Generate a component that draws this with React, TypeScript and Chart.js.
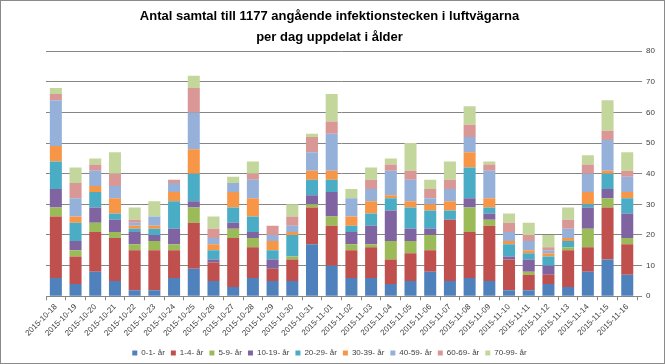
import React, { useEffect, useRef } from "react";
import { Chart, registerables } from "chart.js";

Chart.register(...registerables);

const dates = [
  "2015-10-18", "2015-10-19", "2015-10-20", "2015-10-21", "2015-10-22", "2015-10-23",
  "2015-10-24", "2015-10-25", "2015-10-26", "2015-10-27", "2015-10-28", "2015-10-29",
  "2015-10-30", "2015-10-31", "2015-11-01", "2015-11-02", "2015-11-03", "2015-11-04",
  "2015-11-05", "2015-11-06", "2015-11-07", "2015-11-08", "2015-11-09", "2015-11-10",
  "2015-11-11", "2015-11-12", "2015-11-13", "2015-11-14", "2015-11-15", "2015-11-16",
];

const age0_1 = [6, 4, 8, 5, 2, 2, 6, 9, 5, 3, 6, 5, 5, 17, 10, 6, 6, 4, 5, 8, 5, 6, 5, 2, 2, 4, 3, 8, 12, 7];
const age1_4 = [20, 9, 13, 14, 13, 13, 9, 15, 6, 16, 10, 4, 7, 12, 13, 9, 10, 8, 9, 7, 20, 15, 18, 10, 5, 3, 12, 8, 17, 10];
const age5_9 = [3, 2, 3, 2, 2, 3, 2, 5, 0, 3, 3, 0, 1, 1, 3, 2, 1, 6, 4, 5, 0, 8, 2, 0, 1, 0, 1, 6, 3, 2];
const age10_19 = [6, 3, 5, 4, 4, 2, 5, 2, 1, 2, 2, 3, 0, 3, 8, 4, 6, 10, 4, 2, 0, 3, 2, 1, 4, 3, 0, 7, 3, 8];
const age20_29 = [9, 6, 5, 2, 1, 2, 9, 9, 3, 5, 5, 3, 7, 5, 4, 2, 4, 4, 7, 6, 3, 10, 2, 4, 2, 3, 2, 1, 5, 5];
const age30_39 = [5, 2, 2, 5, 1, 1, 3, 8, 2, 5, 6, 3, 1, 3, 3, 3, 4, 1, 2, 2, 3, 5, 3, 1, 1, 1, 1, 4, 1, 2];
const age40_59 = [15, 6, 5, 4, 1, 3, 3, 12, 2, 3, 6, 2, 2, 6, 12, 6, 4, 8, 7, 2, 4, 5, 9, 3, 3, 1, 3, 6, 10, 5];
const age60_69 = [2, 5, 2, 4, 1, 0, 1, 8, 3, 0, 2, 3, 3, 5, 4, 0, 3, 2, 3, 3, 3, 4, 2, 3, 2, 1, 3, 3, 3, 2];
const age70_99 = [2, 5, 2, 7, 4, 5, 0, 4, 4, 2, 4, 0, 4, 1, 9, 3, 4, 2, 9, 3, 6, 6, 1, 3, 4, 4, 4, 3, 10, 6];

const seriesNames = ["0-1- år", "1-4- år", "5-9- år", "10-19- år", "20-29- år", "30-39- år", "40-59- år", "60-69- år", "70-99- år"];
const seriesColors = ["#4F81BD", "#C0504D", "#9BBB59", "#8064A2", "#4BACC6", "#F79646", "#95B1DA", "#D99795", "#C3D69B"];

const yTicks = [0, 10, 20, 30, 40, 50, 60, 70, 80];

const titleLines = ["Antal samtal till 1177 angående infektionstecken i luftvägarna", "per dag uppdelat i ålder"];

const FONT = "'Liberation Sans', Arial, sans-serif";

const borderPlugin = {
  id: "outerBorder",
  afterLayout(chart: any) {
    if (chart.legend) {
      chart.legend.top += 3;
      chart.legend.bottom += 3;
    }
  },
  beforeDraw(chart: any) {
    const ctx = chart.ctx;
    ctx.save();
    ctx.fillStyle = "#ffffff";
    ctx.fillRect(0, 0, chart.width, chart.height);
    ctx.restore();
  },
  afterDraw(chart: any) {
    const ctx = chart.ctx;
    ctx.save();
    ctx.strokeStyle = "#8a8a8a";
    ctx.lineWidth = 1;
    ctx.strokeRect(0.5, 0.5, chart.width - 1, chart.height - 1);
    ctx.restore();
  },
};

export default function App() {
  const ref = useRef<HTMLCanvasElement | null>(null);
  useEffect(() => {
    if (!ref.current) return;
    const values = [age0_1, age1_4, age5_9, age10_19, age20_29, age30_39, age40_59, age60_69, age70_99];
    const chart = new Chart(ref.current, {
      type: "bar",
      data: {
        labels: dates,
        datasets: values.map((v, i) => ({
          label: seriesNames[i],
          data: v,
          backgroundColor: seriesColors[i],
          borderWidth: 0,
          categoryPercentage: 1,
          barPercentage: 0.61,
        })),
      },
      options: {
        animation: false,
        responsive: false,
        maintainAspectRatio: false,
        layout: { padding: { left: 0, right: 6, top: 0, bottom: 0 } },
        plugins: {
          title: {
            display: true,
            text: titleLines,
            color: "#000000",
            font: { family: FONT, size: 13, weight: "bold", lineHeight: 1.62 },
            padding: { top: 6, bottom: 3 },
          },
          legend: {
            position: "bottom",
            labels: {
              boxWidth: 5,
              boxHeight: 5,
              padding: 6,
              color: "#404040",
              font: { family: FONT, size: 8 },
            },
          },
          tooltip: { enabled: false },
        },
        scales: {
          x: {
            stacked: true,
            afterFit: (scale: any) => {
              scale.paddingLeft = 46;
            },
            grid: {
              display: true,
              drawOnChartArea: false,
              drawTicks: true,
              tickLength: 4,
              offset: true,
              color: "#868686",
            },
            border: { display: true, color: "#868686" },
            ticks: {
              minRotation: 45,
              maxRotation: 45,
              autoSkip: false,
              color: "#404040",
              font: { family: FONT, size: 8 },
              padding: 2,
            },
          },
          y: {
            stacked: true,
            position: "right",
            min: 0,
            max: 80,
            afterBuildTicks: (axis: any) => {
              axis.ticks = yTicks.map((v) => ({ value: v }));
            },
            grid: {
              color: "#868686",
              drawTicks: true,
              tickLength: 5,
            },
            border: { display: false },
            ticks: {
              color: "#404040",
              font: { family: FONT, size: 8 },
              padding: 4,
            },
          },
        },
      },
      plugins: [borderPlugin],
    });
    return () => chart.destroy();
  }, []);
  return (
    <div style={{ position: "fixed", left: 0, top: 0, width: 665, height: 364, background: "#fff" }}>
      <canvas ref={ref} width={665} height={364} style={{ width: 665, height: 364, display: "block" }} />
    </div>
  );
}
